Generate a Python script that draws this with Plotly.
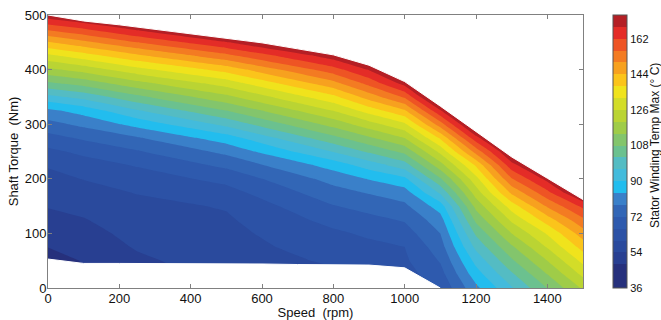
import numpy as np
import plotly.graph_objects as go

# ---- data ----
speed_rpm = [0, 100, 250, 500, 800, 900, 1000, 1100, 1200, 1300, 1400, 1500]
torque_nm = list(range(0, 501, 25))

# stator winding max temperature (deg C) per speed column, torque 0..500 step 25
temp_0 = [38, 40, 43, 48.2, 50.2, 52.3, 54.3, 56.3, 58.3, 60.5, 64.5, 69.8, 76, 82.6, 94.2, 107, 118.7, 130.3, 143.5, 157.8, 172]
temp_100 = [45, 47, 48.7, 50.5, 52, 53.7, 55.5, 57.8, 60.2, 63.2, 67.5, 73, 79.5, 86.5, 98, 110.5, 122.5, 135, 148.5, 162, 176.5]
temp_250 = [50, 51.5, 53, 54.5, 55.8, 57, 58.3, 60.3, 63, 66.5, 71.5, 77.5, 86, 95.5, 106.5, 118, 130, 142.5, 156, 169.5, 183]
temp_500 = [55, 55.7, 56.7, 57.5, 58.3, 59.2, 60.5, 63.8, 67.8, 73.4, 79.6, 87.3, 97.7, 108, 118.4, 128.8, 140.4, 154, 167.6, 181, 194]
temp_800 = [57, 58.7, 60.9, 62.9, 64.9, 68, 71.7, 75.7, 80.2, 86.4, 96.4, 106.3, 116.3, 126.2, 136.4, 148, 159.5, 171, 185, 198, 211]
temp_900 = [59.5, 61.1, 63, 64.5, 67, 70.3, 74.2, 78.5, 84.4, 92.8, 103, 113.2, 123.5, 134.7, 146.6, 158, 168.5, 182, 196, 210, 224]
temp_1000 = [62, 63.5, 65, 66, 69.2, 72.6, 76.7, 81.3, 88.6, 99.2, 109.7, 120.2, 130.8, 143.2, 156.8, 170.4, 184, 197, 211, 224, 238]
temp_1100 = [67, 69.7, 72.5, 75.3, 78, 81.5, 86.9, 97.1, 107.3, 117.5, 127.7, 139, 153.2, 167.4, 182, 196, 210, 224, 238, 252, 266]
temp_1200 = [82.6, 87.3, 92, 97.5, 103, 109.5, 116, 123, 130, 138.8, 152.4, 166, 179.6, 193, 207, 220, 234, 248, 261, 275, 289]
temp_1300 = [95.4, 101, 107, 113, 120, 127.3, 135, 145.3, 155.6, 165.8, 176, 186, 196.5, 207, 217, 227, 238, 248, 258, 268, 279]
temp_1400 = [108.2, 114, 120, 126.5, 132.6, 141.1, 150.8, 160.4, 170, 179, 189, 199, 208, 218, 227, 237, 247, 256, 266, 276, 285]
temp_1500 = [121, 127.4, 133.7, 140.3, 147, 154.8, 163.5, 177, 190, 203, 216, 229, 242, 255, 268, 281, 294, 307, 320, 333, 346]

# operating envelope
env_speed = [0, 100, 200, 300, 400, 500, 600, 700, 800, 900, 1000, 1100, 1200, 1300, 1400, 1500]
env_max_torque = [500, 489, 482, 474, 466, 458, 449, 438, 427, 408, 378, 333, 286, 240, 201, 162]
min_speed = [0, 100, 200, 300, 400, 500, 600, 700, 800, 900, 1000, 1100]
min_torque = [53, 45, 45, 45, 44, 44, 44, 43, 43, 42, 37, 0]

cbar_ticks = [36, 54, 72, 90, 108, 126, 144, 162]
level_start, level_end, level_step = 36, 174, 6

# colours of the bands 36-42, 42-48, ..., 168-174
band_colors = [
    "#26307c", "#283f91", "#2a4a9d", "#2c52a6", "#2e5aae", "#3266b6",
    "#3a80c9", "#22bdee", "#43bbdc", "#54bcc3", "#5ebfa8", "#6bc18f",
    "#83c56c", "#9fcc48", "#bad433", "#d3dd28", "#f0e31c", "#fbc41b",
    "#f7a11f", "#f37b22", "#ee5424", "#e42c27", "#b41f25",
]

# ---- build figure ----
columns = [temp_0, temp_100, temp_250, temp_500, temp_800, temp_900, temp_1000,
           temp_1100, temp_1200, temp_1300, temp_1400, temp_1500]
z = np.array(columns).T

# plotly maps contour fills onto (levels + 1) equal slots; slot 0 is "below start"
slots = [band_colors[0]] + band_colors
ns = len(slots)
colorscale = []
for k, c in enumerate(slots):
    colorscale.append([k / ns, c])
    colorscale.append([(k + 1) / ns, c])

FONT = "Liberation Sans, Arial, sans-serif"
TXT = "#111111"

fig = go.Figure()
fig.add_trace(go.Contour(
    x=speed_rpm, y=torque_nm, z=z,
    zmin=level_start, zmax=level_end, autocontour=False,
    contours=dict(start=level_start, end=level_end, size=level_step,
                  coloring="fill", showlines=False),
    line=dict(width=0, smoothing=0),
    colorscale=colorscale,
    hoverinfo="skip",
    colorbar=dict(
        x=(613 - 48) / 535, xanchor="left", xpad=0,
        y=1, yanchor="top", ypad=0, len=1.0, lenmode="fraction",
        thickness=14, outlinewidth=1, outlinecolor="#555555",
        tickvals=cbar_ticks, ticks="", ticklen=0,
        tickfont=dict(family=FONT, size=11, color=TXT),
    ),
))

# white masks outside the operating envelope
fig.add_trace(go.Scatter(
    x=env_speed + [env_speed[-1], env_speed[0]],
    y=env_max_torque + [530, 530],
    fill="toself", fillcolor="white", mode="lines",
    line=dict(width=1, color="white"), hoverinfo="skip", showlegend=False))
fig.add_trace(go.Scatter(
    x=min_speed + [min_speed[-1], min_speed[0]],
    y=min_torque + [-30, -30],
    fill="toself", fillcolor="white", mode="lines",
    line=dict(width=1, color="white"), hoverinfo="skip", showlegend=False))

axis_common = dict(
    showgrid=False, zeroline=False, showline=True, linecolor="#808080",
    linewidth=1, mirror="ticks", ticks="inside", ticklen=4, tickcolor="#808080",
    tickfont=dict(family=FONT, size=13, color=TXT), ticklabelstandoff=-2,
)
fig.update_xaxes(range=[0, 1500], tickvals=[0, 200, 400, 600, 800, 1000, 1200, 1400],
                 title=dict(text="Speed\u00a0 (rpm)", standoff=4,
                            font=dict(family=FONT, size=13, color=TXT)),
                 **axis_common)
fig.update_yaxes(range=[0, 500], tickvals=[0, 100, 200, 300, 400, 500],
                 title=dict(text="Shaft Torque\u00a0 (Nm)", standoff=3,
                            font=dict(family=FONT, size=13, color=TXT)),
                 **axis_common)

fig.add_annotation(
    text="Stator Winding Temp Max (° C)", textangle=-90,
    xref="paper", yref="paper", x=(655 - 48) / 535, y=(288 - 146) / 273,
    xanchor="center", yanchor="middle", showarrow=False,
    font=dict(family=FONT, size=12, color=TXT))

fig.update_layout(
    width=661, height=320,
    margin=dict(l=48, r=78, t=15, b=32, autoexpand=False),
    paper_bgcolor="white", plot_bgcolor="white",
    font=dict(family=FONT, size=13, color=TXT),
    showlegend=False,
)

fig.write_html("out.html")
